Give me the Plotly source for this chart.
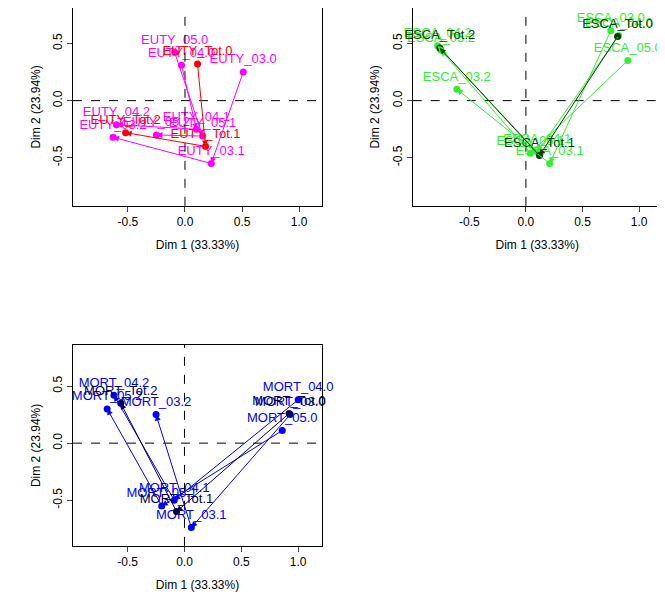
import plotly.graph_objects as go

# trajectories: each group goes .0 -> .1 -> .2
groups = ["03", "04", "05", "Tot"]

euty_x = {"03": [0.51, 0.23, -0.63], "04": [-0.03, 0.10, -0.60],
          "05": [-0.09, 0.155, -0.25], "Tot": [0.11, 0.18, -0.52]}
euty_y = {"03": [0.25, -0.55, -0.32], "04": [0.31, -0.25, -0.21],
          "05": [0.42, -0.31, -0.30], "Tot": [0.32, -0.40, -0.28]}

esca_x = {"03": [0.75, 0.21, -0.61], "04": [0.82, 0.10, -0.78],
          "05": [0.90, 0.04, -0.75], "Tot": [0.81, 0.12, -0.76]}
esca_y = {"03": [0.61, -0.55, 0.10], "04": [0.57, -0.45, 0.48],
          "05": [0.35, -0.46, 0.44], "Tot": [0.56, -0.48, 0.46]}

mort_x = {"03": [0.93, 0.06, -0.25], "04": [1.00, -0.09, -0.62],
          "05": [0.86, -0.20, -0.68], "Tot": [0.92, -0.07, -0.56]}
mort_y = {"03": [0.25, -0.74, 0.25], "04": [0.38, -0.50, 0.42],
          "05": [0.11, -0.55, 0.30], "Tot": [0.26, -0.60, 0.35]}

panels = [
    ("EUTY", euty_x, euty_y, "#FF00FF", "#FF0000", [0.099, 0.478], [0.673, 1.0], [-0.98, 1.20], [-0.92, 0.81]),
    ("ESCA", esca_x, esca_y, "#33EE33", "#0A3A0A", [0.616, 0.995], [0.673, 1.0], [-1.00, 1.20], [-0.92, 0.81]),
    ("MORT", mort_x, mort_y, "#0000FF", "#000050", [0.099, 0.478], [0.111, 0.443], [-0.98, 1.21], [-0.90, 0.86]),
]

fig = go.Figure()
shapes, annotations = [], []
font = dict(family="Liberation Sans, Arial", size=12, color="black")

for i, (name, xs, ys, col, totcol, dx, dy, rx, ry) in enumerate(panels):
    n = "" if i == 0 else str(i + 1)
    xa, ya = "x" + n, "y" + n
    for g in groups:
        c = totcol if g == "Tot" else col
        labels = [f"{name}_{g}.{k}" for k in range(3)]
        fig.add_trace(go.Scatter(
            x=xs[g], y=ys[g], mode="markers+text", text=labels,
            textposition="top center", textfont=dict(color=c, size=13, family=font["family"]),
            marker=dict(color=c, size=7), xaxis=xa, yaxis=ya,
            showlegend=False, cliponaxis=False))
        for k in range(2):
            annotations.append(dict(
                x=xs[g][k + 1], y=ys[g][k + 1], ax=xs[g][k], ay=ys[g][k],
                xref=xa, yref=ya, axref=xa, ayref=ya, text="", showarrow=True,
                arrowhead=2, arrowsize=1.2, arrowwidth=1, arrowcolor=c))
    shapes.append(dict(type="line", xref=xa + " domain", yref=ya, x0=0, x1=1, y0=0, y1=0,
                       line=dict(color="black", width=1, dash="dash")))
    shapes.append(dict(type="line", xref=xa, yref=ya + " domain", x0=0, x1=0, y0=0, y1=1,
                       line=dict(color="black", width=1, dash="dash")))
    ax_common = dict(showgrid=False, zeroline=False, showline=True, mirror=True,
                     linecolor="black", linewidth=1, ticks="outside", ticklen=5,
                     tickfont=font)
    fig.layout["xaxis" + n] = dict(domain=dx, range=rx, anchor=ya,
                                  tickvals=[-0.5, 0, 0.5, 1.0], ticktext=["-0.5", "0.0", "0.5", "1.0"],
                                  title=dict(text="Dim 1 (33.33%)", standoff=12, font=font),
                                  **ax_common)
    fig.layout["yaxis" + n] = dict(domain=dy, range=ry, anchor=xa,
                                  tickvals=[-0.5, 0, 0.5], ticktext=["-0.5", "0.0", "0.5"],
                                  tickangle=-90,
                                  title=dict(text="Dim 2 (23.94%)", standoff=8, font=font),
                                  **ax_common)

fig.update_layout(width=657, height=605, margin=dict(l=0, r=0, t=0, b=0),
                  plot_bgcolor="white", paper_bgcolor="white",
                  shapes=shapes, annotations=annotations, font=font)
fig.write_html("out.html")
